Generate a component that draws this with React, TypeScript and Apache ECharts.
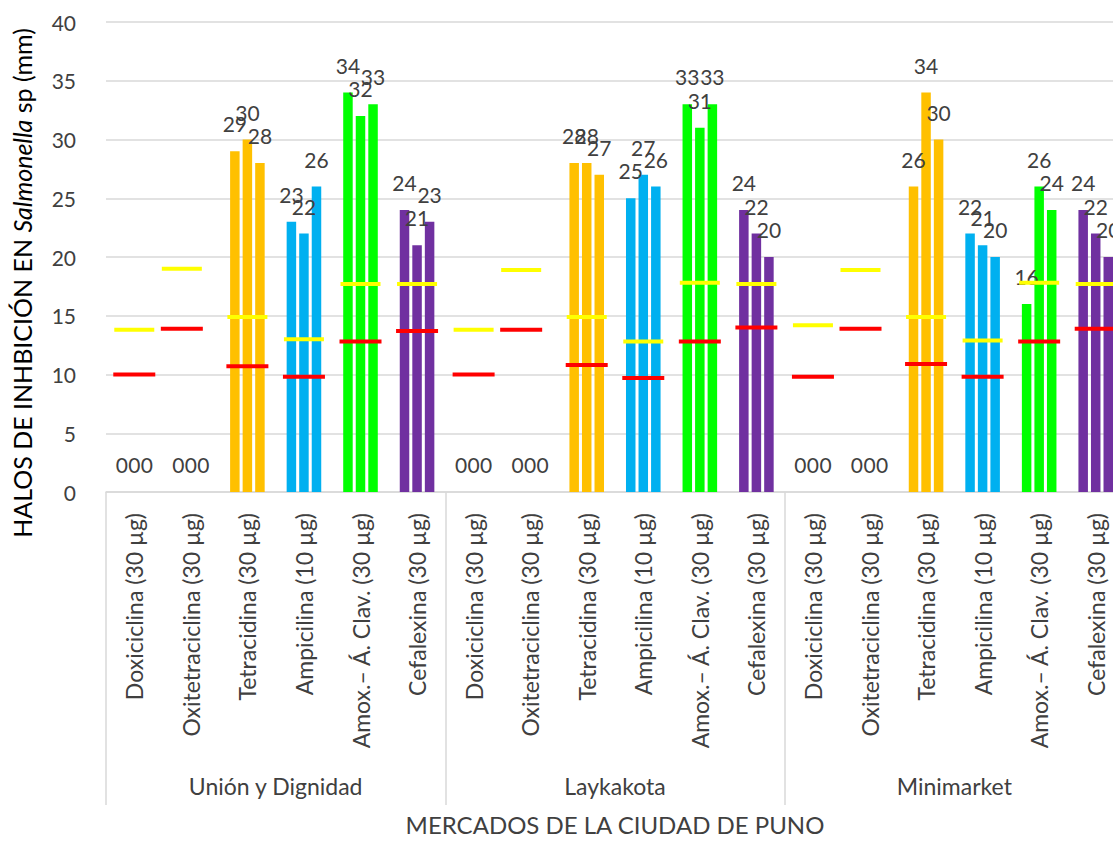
import React, { useEffect, useRef } from "react";
import * as echarts from "echarts";

const antibiotics = [
  "Doxiciclina (30 µg)",
  "Oxitetraciclina (30 µg)",
  "Tetracidina (30 µg)",
  "Ampicilina (10 µg)",
  "Amox.– Á. Clav. (30 µg)",
  "Cefalexina (30 µg)",
];
const markets = ["Unión y Dignidad", "Laykakota", "Minimarket"];
const yTicks = [0, 5, 10, 15, 20, 25, 30, 35, 40];

const replicate1 = [0, 0, 29, 23, 34, 24, 0, 0, 28, 25, 33, 24, 0, 0, 26, 22, 16, 24];
const replicate2 = [0, 0, 30, 22, 32, 21, 0, 0, 28, 27, 31, 22, 0, 0, 34, 21, 26, 22];
const replicate3 = [0, 0, 28, 26, 33, 23, 0, 0, 27, 26, 33, 20, 0, 0, 30, 20, 24, 20];
const yellowLimit = [13.8, 19, 14.9, 13, 17.7, 17.7, 13.8, 18.9, 14.9, 12.8, 17.8, 17.7, 14.2, 18.9, 14.9, 12.9, 17.8, 17.7];
const redLimit = [10, 13.9, 10.7, 9.8, 12.8, 13.7, 10, 13.8, 10.8, 9.7, 12.8, 14, 9.8, 13.9, 10.9, 9.8, 12.8, 13.9];

const FONT = "Lato";
const barColors = ["#FFC000", "#FFC000", "#FFC000", "#00B0F0", "#00FF00", "#7030A0"];

export default function App() {
  const ref = useRef<HTMLDivElement>(null);
  useEffect(() => {
    if (!ref.current) return;
    const chart = echarts.init(ref.current, undefined, { renderer: "svg" });
    const categories: string[] = [];
    markets.forEach(() => antibiotics.forEach((a) => categories.push(a)));

    const barSeries = [replicate1, replicate2, replicate3].map((vals, k) => ({
      type: "bar",
      name: "R" + (k + 1),
      data: vals,
      barWidth: 9.5,
      barGap: "32%",
      itemStyle: { color: (p: any) => barColors[p.dataIndex % 6] },
      label: {
        show: true,
        position: "top",
        distance: 17,
        fontSize: 21,
        fontFamily: FONT,
        color: "#404040",
      },
      z: 2,
    }));

    const limitSeries = (vals: number[], color: string, width: number) => ({
      type: "scatter",
      data: vals.map((v, i) => ({
        value: [i, v],
        symbolOffset: i % 6 === 1 ? [-9, 0] : [0, 0],
      })),
      symbol: "rect",
      symbolSize: [width, 4],
      itemStyle: { color, opacity: 1 },
      z: 5,
      silent: true,
    });

    chart.setOption({
      animation: false,
      backgroundColor: "#ffffff",
      grid: { left: 106, right: 6, top: 22, bottom: 346, containLabel: false },
      xAxis: [
        {
          type: "category",
          data: categories,
          axisLine: { show: true, lineStyle: { color: "#D9D9D9", width: 1.5 } },
          axisTick: { show: false },
          axisLabel: {
            interval: 0,
            rotate: 90,
            margin: 21,
            fontSize: 23,
            fontFamily: FONT,
            color: "#404040",
          },
        },
        {
          type: "category",
          position: "bottom",
          data: markets,
          axisLine: { show: false },
          axisTick: {
            show: true,
            interval: 0,
            length: 313,
            lineStyle: { color: "#D9D9D9", width: 1.5 },
          },
          axisLabel: {
            interval: 0,
            margin: 282,
            fontSize: 23,
            fontFamily: FONT,
            color: "#404040",
          },
          name: "MERCADOS DE LA CIUDAD DE PUNO",
          nameLocation: "middle",
          nameGap: 320,
          nameTextStyle: { fontSize: 24, fontFamily: FONT, color: "#404040" },
        },
      ],
      yAxis: {
        type: "value",
        min: yTicks[0],
        max: yTicks[yTicks.length - 1],
        interval: 5,
        axisLine: { show: false },
        axisTick: { show: false },
        splitLine: { lineStyle: { color: "#D9D9D9", width: 1.5 } },
        axisLabel: { fontSize: 21, fontFamily: FONT, color: "#404040", margin: 30 },
      },
      graphic: [
        {
          type: "text",
          x: 22,
          y: 283,
          rotation: Math.PI / 2,
          style: {
            text: "{n|HALOS DE INHBICIÓN EN }{i|Salmonella}{n| sp (mm)}",
            align: "center",
            verticalAlign: "middle",
            fill: "#000000",
            font: `25px ${FONT}`,
            rich: {
              n: { fontSize: 25, fontFamily: FONT, fill: "#000000", color: "#000000" },
              i: { fontSize: 25, fontFamily: FONT, fontStyle: "italic", fill: "#000000", color: "#000000" },
            },
          },
        },
      ],
      series: [
        ...barSeries,
        limitSeries(yellowLimit, "#FFFF00", 40),
        limitSeries(redLimit, "#FF0000", 42),
      ],
    });
    return () => chart.dispose();
  }, []);
  return (
    <div style={{ position: "fixed", left: 0, top: 0, width: 1113, height: 841, overflow: "hidden", background: "#fff" }}>
      <div ref={ref} style={{ width: 1130, height: 841 }} />
    </div>
  );
}
